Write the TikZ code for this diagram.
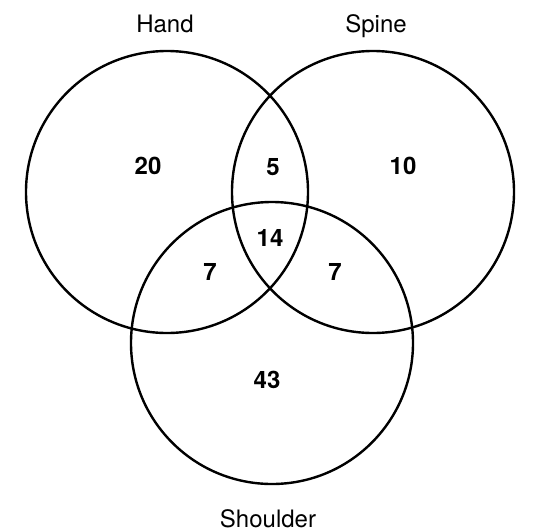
\documentclass[tikz,border=0pt]{standalone}
\usepackage{fontspec}
\setmainfont{TeX Gyre Heros}
\usepackage{tikz}
\usetikzlibrary{positioning}
\tikzset{
  setcircle/.style={circle, draw=black, line width=1.2pt,
    minimum size=141pt, inner sep=0pt},
  setname/.style={anchor=base, inner sep=0pt,
    font=\fontsize{12}{14}\selectfont},
  count/.style={inner sep=0pt,
    font=\fontsize{12}{14}\selectfont\bfseries}
}

\begin{document}
\begin{tikzpicture}[x=0.5pt, y=-0.5pt]
  \useasboundingbox (0,0) rectangle (535,531);

  % Sets
  \node[setcircle] (hand) at (167,192) {};
  \node[setcircle] (spine) at (373,192) {};
  \node[setcircle] (shoulder) at (272,343) {};

  % Set names
  \node[setname] (handname) at (165,32.5) {Hand};
  \node[setname] (spinename) at (376,32.5) {Spine};
  \node[setname] (shouldername) at (268,527) {Shoulder};

  % Counts per region
  \node[count] (handonly) at (148,166) {20};
  \node[count] (handspine) at (273,167) {5};
  \node[count] (spineonly) at (403,166) {10};
  \node[count] (allthree) at (270,238) {14};
  \node[count] (handshoulder) at (210,272) {7};
  \node[count] (spineshoulder) at (335,272) {7};
  \node[count] (shoulderonly) at (267,380) {43};
\end{tikzpicture}
\end{document}
